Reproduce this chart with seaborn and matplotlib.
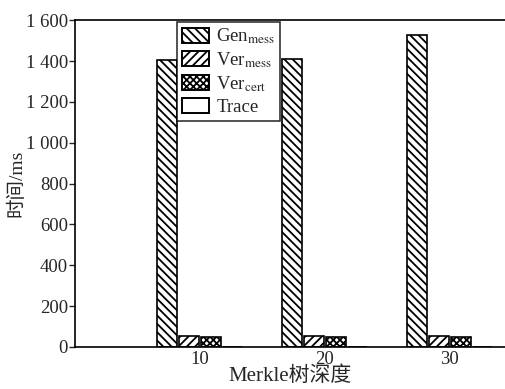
import seaborn as sns
import matplotlib.pyplot as plt
import pandas as pd
from matplotlib.patches import Patch

# data
depths = ['10', '20', '30']
series = ['Gen$_{\\mathrm{mess}}$', 'Ver$_{\\mathrm{mess}}$', 'Ver$_{\\mathrm{cert}}$', 'Trace']
gen_mess = [1405, 1412, 1530]
ver_mess = [55, 55, 55]
ver_cert = [50, 50, 50]
trace = [0, 0, 0]
hatches = ['\\\\\\\\', '////', 'xxxxx', '']
y_ticks = [0, 200, 400, 600, 800, 1000, 1200, 1400, 1600]
y_labels = ['0', '200', '400', '600', '800', '1 000', '1 200', '1 400', '1 600']

df = pd.DataFrame({
    'depth': depths * 4,
    'series': [s for s in series for _ in depths],
    'time': gen_mess + ver_mess + ver_cert + trace,
})

sns.set_style('ticks')
plt.rcParams['font.family'] = ['Liberation Serif', 'Noto Sans CJK SC']
plt.rcParams['mathtext.fontset'] = 'stix'
plt.rcParams['hatch.linewidth'] = 1.3

fig = plt.figure(figsize=(5.06, 3.89), dpi=100)
ax = fig.add_axes([0.148, 0.108, 0.852, 0.84])

sns.barplot(data=df, x='depth', y='time', hue='series', palette=['white'] * 4,
            width=0.7, gap=0.1, edgecolor='black', linewidth=1.2, ax=ax)

for container, h in zip(ax.containers, hatches):
    for bar in container:
        bar.set_hatch(h)

ax.set_xlim(-1.0, 2.45)
ax.set_ylim(0, 1600)
ax.set_yticks(y_ticks)
ax.set_yticklabels(y_labels)
ax.tick_params(axis='y', labelsize=13.5, length=4, width=1, direction='out', pad=1)
ax.tick_params(axis='x', labelsize=13.5, length=0, pad=3)
ax.set_xlabel('Merkle树深度', fontsize=15, labelpad=-1)
ax.set_ylabel('时间/ms', fontsize=14, labelpad=0)

for side in ['left', 'bottom', 'top']:
    ax.spines[side].set_linewidth(1.2)
    ax.spines[side].set_color('black')
ax.spines['right'].set_visible(False)

handles = [Patch(facecolor='white', edgecolor='black', hatch=h, linewidth=1.4) for h in hatches]
leg = ax.legend(handles, series, loc='upper left', bbox_to_anchor=(0.237, 0.995),
                fontsize=13.5, frameon=True, fancybox=False, edgecolor='black',
                handlelength=1.45, handleheight=0.85, handletextpad=0.4,
                labelspacing=0.22, borderpad=0.25, borderaxespad=0)
leg.get_frame().set_linewidth(1.2)

fig.savefig('out.png', dpi=100)
